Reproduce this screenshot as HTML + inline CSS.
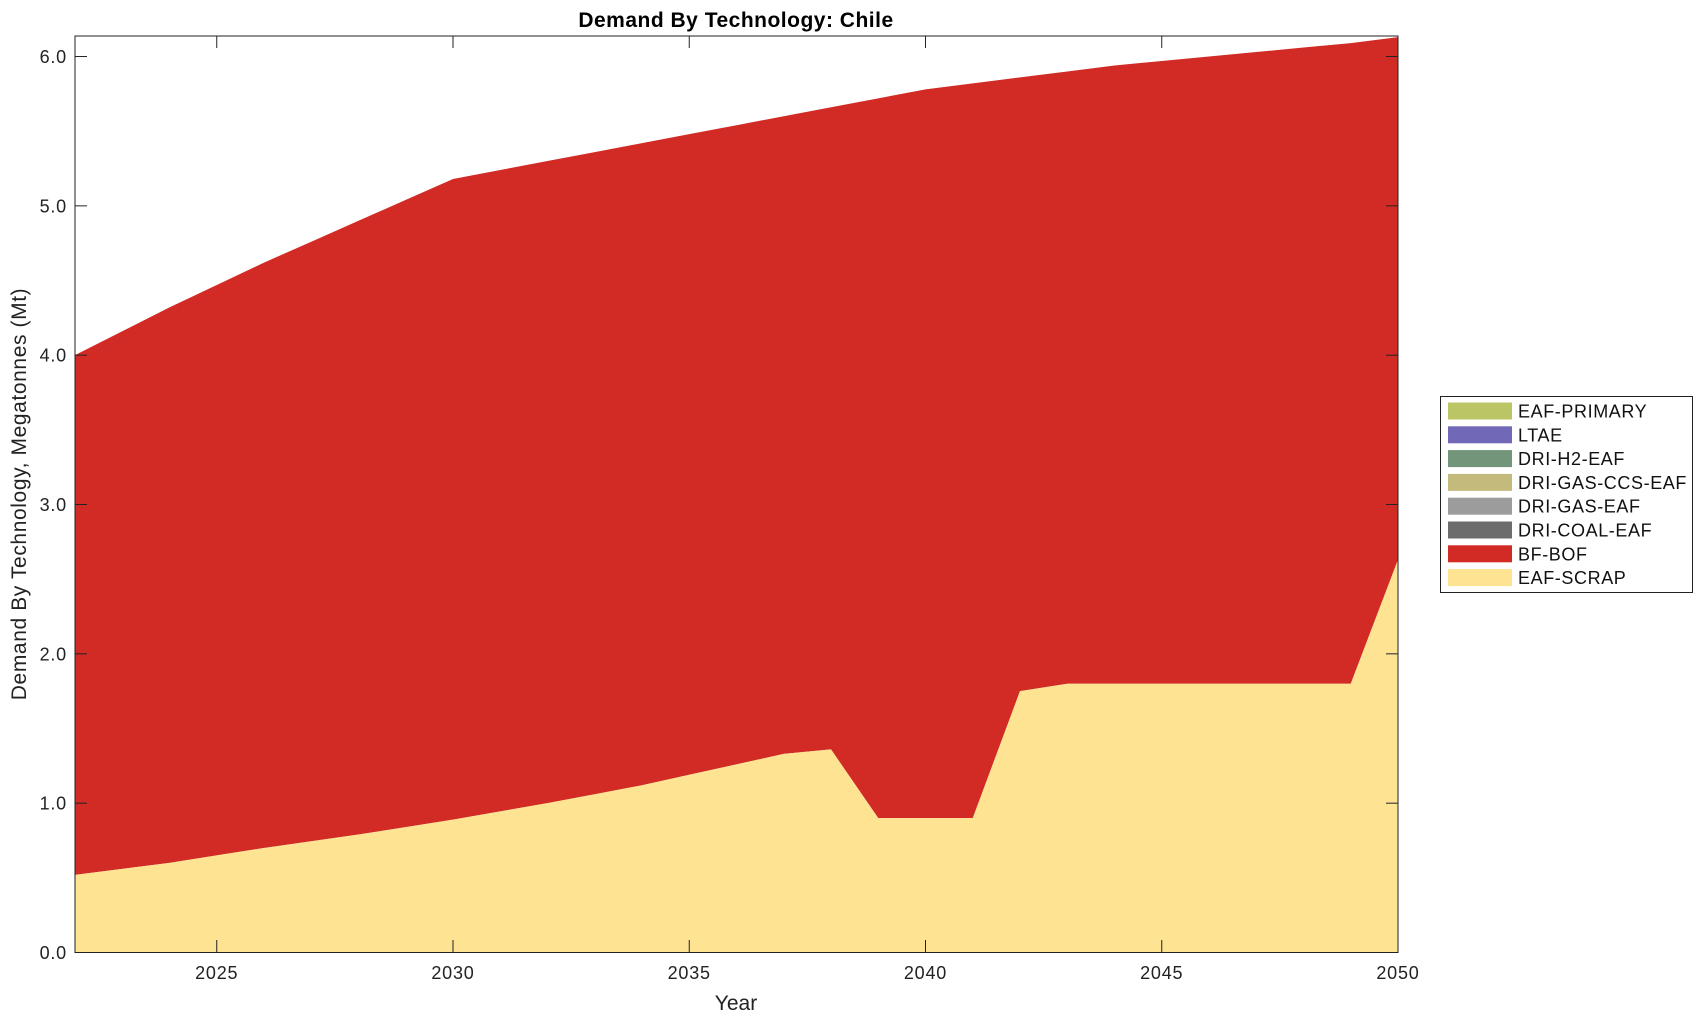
<!DOCTYPE html>
<html><head><meta charset="utf-8"><style>
html,body{margin:0;padding:0;background:#fff;}
svg{display:block;font-family:"Liberation Sans",Arial,sans-serif;}
</style></head><body>
<svg id="s" width="1703" height="1021" viewBox="0 0 1703 1021" xmlns="http://www.w3.org/2000/svg">
<rect width="1703" height="1021" fill="#fff"/>
<path id="red" fill="#d22b25"/>
<path id="yel" fill="#fde392"/>
<g id="axes" stroke="#222" stroke-width="1" fill="none">
<rect x="75" y="36" width="1323" height="916.5"/>
</g>
<g id="ticks" stroke="#222" stroke-width="1"></g>
<g id="labels" font-size="18" fill="#222" letter-spacing="0.8"></g>
<text x="736" y="27" text-anchor="middle" font-size="21" font-weight="bold" fill="#000" letter-spacing="0.5">Demand By Technology: Chile</text>
<text x="736" y="1010" text-anchor="middle" font-size="21" fill="#222">Year</text>
<text transform="translate(26,494) rotate(-90)" text-anchor="middle" font-size="21" fill="#222" letter-spacing="0.6">Demand By Technology, Megatonnes (Mt)</text>
<rect x="1440.5" y="396.5" width="252" height="196" fill="#fff" stroke="#222"/>
<g id="leg" font-size="18" fill="#111" letter-spacing="0.6"></g>
</svg>
<script>
var X0=75,PX=47.25,Y0=952.5,PY=149.33;
function x(yr){return X0+(yr-2022)*PX;} function y(v){return Y0-v*PY;}
var tot=[4.0,4.16,4.32,4.47,4.62,4.76,4.90,5.04,5.18,5.24,5.30,5.36,5.42,5.48,5.54,5.60,5.66,5.72,5.78,5.82,5.86,5.90,5.94,5.97,6.00,6.03,6.06,6.09,6.13];
var scr=[.52,.56,.60,.65,.70,.745,.79,.84,.89,.945,1.0,1.06,1.12,1.19,1.26,1.33,1.36,.9,.9,.9,1.75,1.8,1.8,1.8,1.8,1.8,1.8,1.8,2.63];
function area(top,bot){var d="M"+x(2022)+","+y(bot?bot[0]:0);
for(var i=0;i<top.length;i++)d+="L"+x(2022+i)+","+y(top[i]);
if(bot){for(var i=bot.length-1;i>=0;i--)d+="L"+x(2022+i)+","+y(bot[i]);}else{d+="L"+x(2050)+","+Y0+"L"+x(2022)+","+Y0;}
return d+"Z";}
document.getElementById("red").setAttribute("d",area(tot,scr));
document.getElementById("yel").setAttribute("d",area(scr,null));
var NS="http://www.w3.org/2000/svg",tk=document.getElementById("ticks"),lb=document.getElementById("labels");
function el(p,t,a,txt){var e=document.createElementNS(NS,t);for(var k in a)e.setAttribute(k,a[k]);if(txt)e.textContent=txt;p.appendChild(e);}
for(var v=0;v<=6;v++){var yy=y(v);el(tk,"line",{x1:75,x2:87,y1:yy,y2:yy});el(tk,"line",{x1:1386,x2:1398,y1:yy,y2:yy});
el(lb,"text",{x:67,y:yy+6.5,"text-anchor":"end"},v.toFixed(1));}
for(var yr=2025;yr<=2050;yr+=5){var xx=x(yr);el(tk,"line",{x1:xx,x2:xx,y1:952.5,y2:940});el(tk,"line",{x1:xx,x2:xx,y1:36,y2:48});
el(lb,"text",{x:xx,y:979,"text-anchor":"middle"},""+yr);}
var L=[["EAF-PRIMARY","#bcc566"],["LTAE","#7168b8"],["DRI-H2-EAF","#73957a"],["DRI-GAS-CCS-EAF","#c4ba7c"],["DRI-GAS-EAF","#9c9c9c"],["DRI-COAL-EAF","#6d6d6d"],["BF-BOF","#d22b25"],["EAF-SCRAP","#fde392"]];
var lg=document.getElementById("leg");
L.forEach(function(r,i){var cy=411+i*23.8;el(lg,"rect",{x:1448,y:cy-8.5,width:64,height:17,fill:r[1]});el(lg,"text",{x:1518,y:cy+6.5},r[0]);});
</script>
</body></html>
